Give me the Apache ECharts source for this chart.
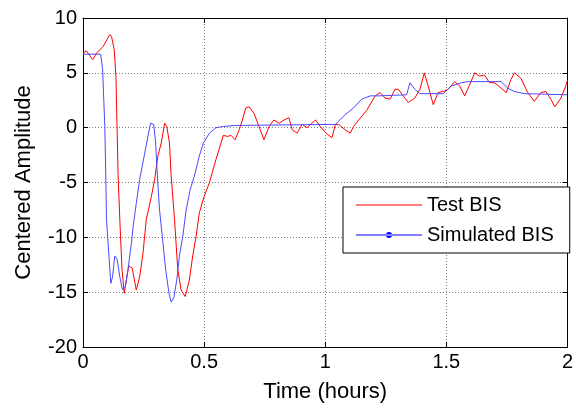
<!DOCTYPE html>
<html>
<head>
<meta charset="utf-8">
<script src="https://cdn.jsdelivr.net/npm/echarts@6/dist/echarts.min.js"></script>
<style>html,body{margin:0;padding:0;background:#fff;}#c{width:576px;height:408px;}</style>
</head>
<body>
<div id="c"></div>
<script>
const xTicks = [0, 0.5, 1, 1.5, 2];
const yTicks = [-20, -15, -10, -5, 0, 5, 10];

const testT = [0.000,0.014,0.040,0.056,0.083,0.111,0.118,0.129,0.136,0.145,0.152,0.161,0.170,0.179,0.189,0.203,0.220,0.234,0.248,0.261,0.282,0.296,0.309,0.323,0.337,0.346,0.357,0.364,0.378,0.391,0.405,0.422,0.439,0.453,0.467,0.480,0.498,0.522,0.549,0.570,0.579,0.597,0.611,0.628,0.645,0.658,0.672,0.686,0.706,0.727,0.747,0.768,0.788,0.809,0.830,0.850,0.864,0.884,0.905,0.925,0.960,0.980,1.008,1.028,1.042,1.055,1.083,1.103,1.117,1.138,1.172,1.206,1.227,1.247,1.268,1.288,1.302,1.322,1.343,1.370,1.391,1.409,1.425,1.446,1.466,1.487,1.507,1.535,1.555,1.576,1.596,1.617,1.637,1.658,1.678,1.699,1.726,1.747,1.767,1.781,1.808,1.836,1.863,1.890,1.911,1.931,1.948,1.973,1.993,2.000];
const testV = [6.8,7.0,6.2,6.8,7.4,8.5,8.3,7.1,4.7,-4.4,-8.4,-12.9,-15.1,-13.9,-12.6,-12.8,-14.8,-13.6,-11.4,-8.4,-6.3,-4.7,-2.6,-1.4,0.4,0.1,-1.4,-4.4,-8.4,-12.9,-14.8,-15.4,-13.9,-11.7,-9.9,-7.8,-6.4,-5.0,-2.9,-1.4,-0.7,-0.8,-0.7,-1.1,-0.2,0.7,1.8,1.9,1.3,0.1,-1.1,0.1,0.7,0.4,0.7,0.9,-0.2,-0.5,0.3,0.0,0.7,0.1,-0.6,-0.9,0.3,0.3,-0.2,-0.5,0.1,0.7,1.6,2.9,3.2,2.7,2.6,3.5,3.5,2.9,2.3,2.7,3.5,5.0,3.8,2.1,3.2,3.3,3.5,4.2,3.8,2.9,3.9,5.0,4.7,4.8,4.1,4.1,3.6,3.2,4.4,5.0,4.5,3.2,2.4,3.2,3.3,2.6,1.9,2.7,3.8,4.3];

const simT = [0.000,0.073,0.081,0.090,0.094,0.097,0.108,0.115,0.122,0.131,0.141,0.152,0.163,0.175,0.186,0.200,0.207,0.220,0.234,0.255,0.268,0.279,0.292,0.300,0.307,0.316,0.330,0.341,0.355,0.364,0.375,0.387,0.398,0.412,0.426,0.442,0.460,0.480,0.497,0.522,0.549,0.576,0.624,0.631,1.042,1.083,1.117,1.151,1.186,1.220,1.336,1.350,1.370,1.391,1.487,1.521,1.562,1.589,1.726,1.754,1.781,1.822,2.000];
const simV = [6.7,6.7,5.3,0.1,-4.4,-8.4,-12.0,-14.2,-13.6,-11.7,-12.0,-13.6,-14.8,-14.5,-12.9,-10.5,-9.0,-6.9,-4.7,-2.3,-0.8,0.4,0.3,-1.4,-4.4,-7.5,-10.5,-12.9,-15.1,-15.9,-15.5,-13.9,-11.7,-9.9,-7.5,-5.7,-4.4,-2.6,-1.4,-0.5,0.0,0.1,0.2,0.3,0.3,1.2,1.8,2.6,2.9,2.9,3.0,4.1,3.5,3.1,3.1,3.8,4.1,4.2,4.2,3.6,3.3,3.1,3.0];

const seriesNames = ['Test BIS', 'Simulated BIS'];

const FONT = '"Liberation Sans", Arial, sans-serif';
const testData = testT.map((t, i) => [t, testV[i]]);
const simData = simT.map((t, i) => [t, simV[i]]);

const gridStyle = {show: true, lineStyle: {color: '#808080', type: [1, 2], width: 1}};
const xBase = {type: 'value', min: xTicks[0], max: xTicks[xTicks.length - 1], interval: 0.5};
const yBase = {type: 'value', min: yTicks[0], max: yTicks[yTicks.length - 1], interval: 5};

const chart = echarts.init(document.getElementById('c'), null, {renderer: 'canvas'});
chart.setOption({
  animation: false,
  backgroundColor: '#fff',
  grid: {left: 83, right: 5, top: 18, bottom: 61, containLabel: false},
  xAxis: [
    Object.assign({}, xBase, {
      position: 'bottom',
      name: 'Time (hours)', nameLocation: 'middle', nameGap: 34,
      nameTextStyle: {fontFamily: FONT, fontSize: 22, color: '#000'},
      axisLine: {show: true, onZero: false, lineStyle: {color: '#000', width: 1}},
      axisTick: {show: true, inside: true, length: 5, lineStyle: {color: '#000'}},
      axisLabel: {fontFamily: FONT, fontSize: 20, color: '#000', margin: 5,
        formatter: v => String(v)},
      splitLine: gridStyle
    }),
    Object.assign({}, xBase, {
      position: 'top',
      axisLine: {show: true, onZero: false, lineStyle: {color: '#000', width: 1}},
      axisTick: {show: true, inside: true, length: 5, lineStyle: {color: '#000'}},
      axisLabel: {show: false},
      splitLine: {show: false}
    })
  ],
  yAxis: [
    Object.assign({}, yBase, {
      position: 'left',
      name: 'Centered Amplitude', nameLocation: 'middle', nameGap: 48,
      nameTextStyle: {fontFamily: FONT, fontSize: 22, color: '#000'},
      axisLine: {show: true, onZero: false, lineStyle: {color: '#000', width: 1}},
      axisTick: {show: true, inside: true, length: 5, lineStyle: {color: '#000'}},
      axisLabel: {fontFamily: FONT, fontSize: 20, color: '#000', margin: 6},
      splitLine: gridStyle
    }),
    Object.assign({}, yBase, {
      position: 'right',
      axisLine: {show: true, onZero: false, lineStyle: {color: '#000', width: 1}},
      axisTick: {show: true, inside: true, length: 5, lineStyle: {color: '#000'}},
      axisLabel: {show: false},
      splitLine: {show: false}
    })
  ],
  legend: {
    orient: 'vertical',
    left: 343, top: 187,
    width: 225,
    padding: [8, 16, 8, 13],
    itemGap: 10,
    itemWidth: 66, itemHeight: 16,
    backgroundColor: '#fff',
    borderColor: '#000', borderWidth: 1, borderRadius: 0,
    textStyle: {fontFamily: FONT, fontSize: 20, color: '#000', padding: [0, 0, 0, 0]},
    data: [
      {name: seriesNames[0], icon: 'path://M0,0H66V1.2H0Z'},
      {name: seriesNames[1], icon: 'path://M0,2.4H66V3.6H0Z M30,3 A3,3 0 1,0 36,3 A3,3 0 1,0 30,3Z'}
    ]
  },
  series: [
    {
      name: seriesNames[0], type: 'line', data: testData,
      xAxisIndex: 0, yAxisIndex: 0,
      symbol: 'none', showSymbol: false, smooth: false,
      lineStyle: {color: '#ff0000', width: 1},
      itemStyle: {color: '#ff0000'},
      z: 3
    },
    {
      name: seriesNames[1], type: 'line', data: simData,
      xAxisIndex: 0, yAxisIndex: 0,
      symbol: 'none', showSymbol: false, smooth: false,
      lineStyle: {color: '#4a4aff', width: 1},
      itemStyle: {color: '#0000ff'},
      z: 4
    }
  ]
});
</script>
</body>
</html>
